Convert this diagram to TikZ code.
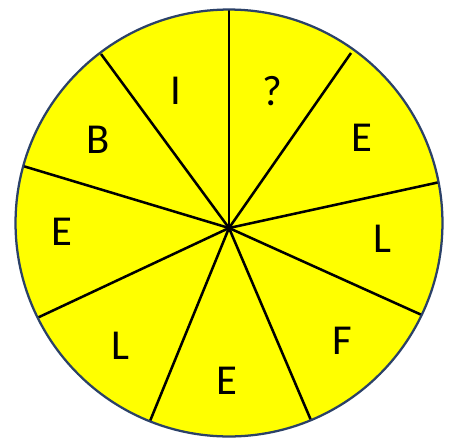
\documentclass[tikz,border=0pt]{standalone}
\usepackage{fontspec}
\setmainfont{Carlito}
\usepackage{tikz}
\usepackage{xcolor}
\definecolor{wheel}{HTML}{FFFF00}
\definecolor{rim}{HTML}{2B4168}

\begin{document}
\begin{tikzpicture}[x=0.75pt,y=-0.75pt,
  spoke/.style={line width=1.9pt,black},
  letter/.style={font=\fontsize{32}{38}\selectfont,inner sep=0pt}]
\useasboundingbox (0,0) rectangle (457,437);
% wheel
\coordinate (c) at (229,223);
\fill[wheel] (c) circle[radius=160.1pt];
% spokes meet a bit below the middle
\coordinate (hub) at (229,228);
\coordinate (s1) at (229,10);
\coordinate (s2) at (351,53);
\coordinate (s3) at (440,182);
\coordinate (s4) at (424,316);
\coordinate (s5) at (313,425);
\coordinate (s6) at (148,426);
\coordinate (s7) at (37,318);
\coordinate (s8) at (23,166);
\coordinate (s9) at (101,54);
\begin{scope}
\clip (c) circle[radius=160.1pt];
\foreach \s in {s1,s2,s3,s4,s5,s6,s7,s8,s9}
  \draw[spoke] (hub) -- (\s);
\end{scope}
\draw[rim,line width=1.7pt] (c) circle[radius=160.1pt];
% letters
\node[letter] (secI) at (176,91) {I};
\node[letter] (secQ) at (272,91) {?};
\node[letter] (secE1) at (362,138) {E};
\node[letter] (secL1) at (382,239) {L};
\node[letter] (secF) at (342,341) {F};
\node[letter] (secE2) at (227,381) {E};
\node[letter] (secL2) at (120,346) {L};
\node[letter] (secE3) at (62,232) {E};
\node[letter] (secB) at (98,140) {B};
\end{tikzpicture}
\end{document}
